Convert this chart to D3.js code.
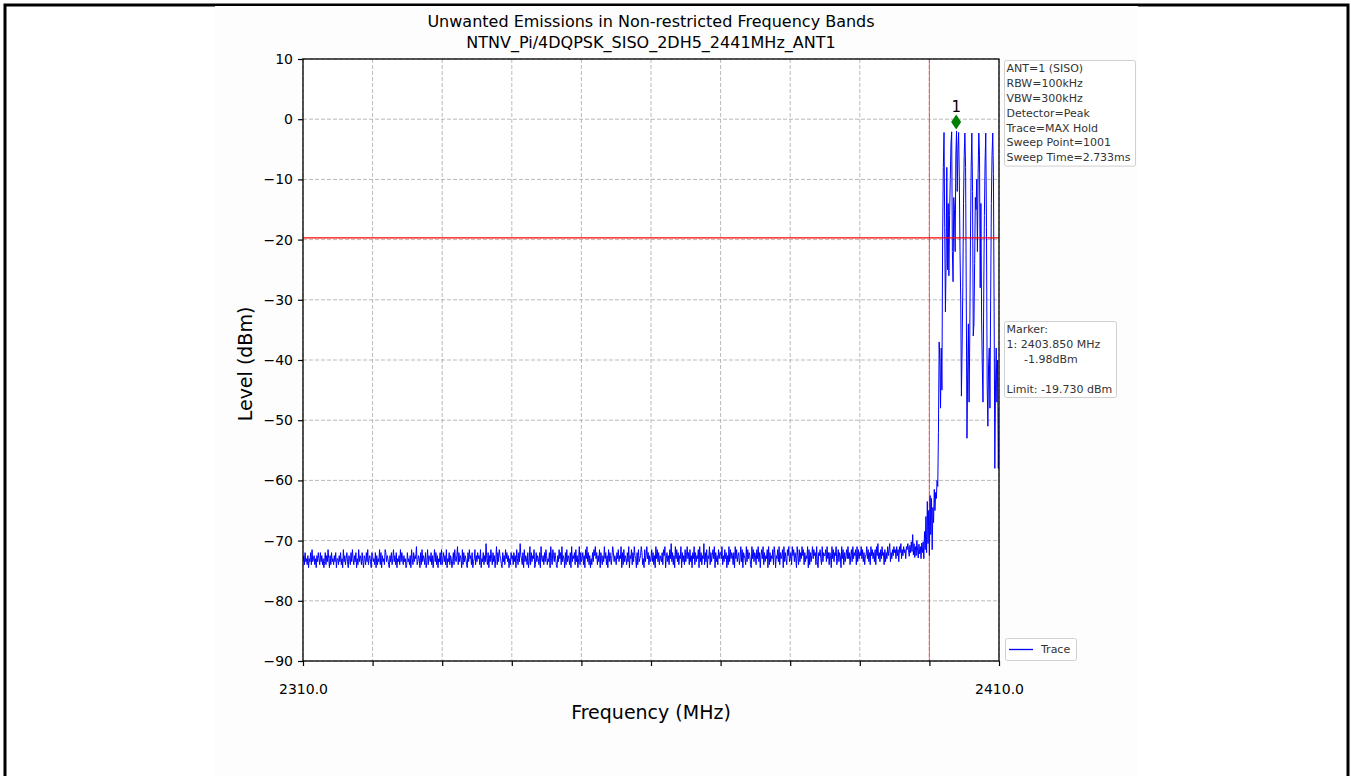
<!DOCTYPE html>
<html><head><meta charset="utf-8">
<script src="https://cdn.jsdelivr.net/npm/d3@7"></script>
<style>
body{margin:0;background:#fff;}
svg{display:block;font-family:"DejaVu Sans",sans-serif;}
</style>
</head><body>
<svg id="chart" width="1351" height="776"></svg>
<script>
// ---------------- data ----------------
const titleLines = ["Unwanted Emissions in Non-restricted Frequency Bands", "NTNV_Pi/4DQPSK_SISO_2DH5_2441MHz_ANT1"];
const xLabel = "Frequency (MHz)";
const yLabel = "Level (dBm)";
const xTicks = [2310, 2320, 2330, 2340, 2350, 2360, 2370, 2380, 2390, 2400, 2410];
const xTickLabels = ["2310.0", "", "", "", "", "", "", "", "", "", "2410.0"];
const yTicks = [10, 0, -10, -20, -30, -40, -50, -60, -70, -80, -90];
const freqStart = 2310.0, freqStep = 0.1;

// noise floor 2310.0 .. 2396.9 MHz, one digit per sweep point: level = -75 + 0.5*digit
const noiseDigits = [
"3526342514","3627345241","5364263524","1362537415","2634253614","4253624173","5246315426","3742536142","7354263154","2637245316",
"5342615243","7261534276","3542153624","7352614352","7364253412","6342517426","3548235416","2735426137","2543625147","3625143627",
"2463527143","6254136274","3582635417","2635421637","4526134725","3645271436","2539426153","7426351482","6375421635","2746351426",
"4526351742","6395426173","5426138263","5471263542","6184352637","5243618427","5364215374","6283541627","3542618354","6273514826",
"3462517483","6251426375","8462537164","2538462517","3642586354","2647354816","2735426381","5472638541","6273458624","1735846253",
"4736251847","3625436275","8146352749","3625184736","2548163527","3584627351","6482635471","8362549263","7154826357","4816352746",
"6482537461","5283746526","1847356248","3716542837","4652184736","5274836157","4826354718","2635472861","5473826457","1836427583",
"4628573641","8527364857","2635481726","3584756283","1657428365","5738462651","8473658247","3651847263","5748462573","8465728374",
"6584736255","8473628574","6372859463","7485627364","8579364758","6748573869","4758674879"
];
// band edge 2397.0 .. 2400.9 MHz (dBm)
const edgeStart = 2397.0;
const edgeLevels = [-71.5,-72.6,-70.8,-72.0,-70.2,-71.8,-69.0,-72.4,-70.5,-72.8,
  -71.0,-72.5,-70.0,-71.6,-72.9,-70.6,-72.2,-71.0,-73.0,-70.4,
  -72.0,-70.2,-73.0,-68.5,-71.5,-66.0,-72.0,-63.5,-70.5,-65.0,
  -72.5,-62.5,-69.0,-63.0,-71.5,-64.5,-67.0,-61.5,-65.0,-62.0];
// in-band signal 2401.0 .. 2410.0 MHz (dBm)
const signalStart = 2401.0;
const signalLevels = [-63,-60,-61,-52,-37,-40,-48,-38,-45,-20,
  -8,-2.2,-18,-32,-24,-8,-25,-14,-26,-16,
  -10,-4,-2.1,-22,-27,-13,-15,-22,-6,-1.98,
  -12,-5,-2.2,-10,-22,-30,-46,-38,-28,-14,
  -6,-2.3,-8,-30,-53,-42,-34,-47,-36,-20,
  -8,-2.3,-12,-36,-34,-24,-13,-15,-10,-22,
  -9,-2.3,-6,-28,-14,-33,-41,-47,-30,-16,
  -7,-2.3,-18,-44,-51,-41,-38,-48,-30,-14,
  -6,-2.3,-9,-32,-58,-44,-38,-47,-40,-58,-48];
const limitLevel = -19.73;
const bandEdge = 2400.0;
const markerFreq = 2403.85, markerLevel = -1.98, markerLabel = "1";
const infoLines = ["ANT=1 (SISO)", "RBW=100kHz", "VBW=300kHz", "Detector=Peak", "Trace=MAX Hold", "Sweep Point=1001", "Sweep Time=2.733ms"];
const markerLines = ["Marker:", "1: 2403.850 MHz", "     -1.98dBm", "", "Limit: -19.730 dBm"];
const legendLabel = "Trace";

// ---------------- build trace ----------------
const trace = [];
noiseDigits.join("").split("").slice(0, 870).forEach((c, i) => trace.push({f: freqStart + i * freqStep, v: -75 + 0.5 * (+c)}));
edgeLevels.forEach((v, i) => trace.push({f: edgeStart + i * freqStep, v}));
signalLevels.forEach((v, i) => trace.push({f: signalStart + i * freqStep, v}));

// ---------------- drawing ----------------
const svg = d3.select("#chart");
const W = 1351, H = 776;
const L = 303, R = 999, T = 59, B = 661;

// outer border and figure background
svg.append("rect").attr("x", 0).attr("y", 0).attr("width", W).attr("height", H).attr("fill", "#fff");
svg.append("path").attr("d", `M5,${H} V5 H${W - 3} V${H}`).attr("fill", "none").attr("stroke", "#000").attr("stroke-width", 3);
svg.append("rect").attr("x", 215).attr("y", 6).attr("width", 923).attr("height", H - 6).attr("fill", "#fdfdfd");

const x = d3.scaleLinear().domain([2310, 2410]).range([L, R]);
const y = d3.scaleLinear().domain([-90, 10]).range([B, T]);

svg.append("rect").attr("x", L).attr("y", T).attr("width", R - L).attr("height", B - T).attr("fill", "#fff");

// grid
const grid = svg.append("g").attr("stroke", "#a8a8a8").attr("stroke-width", 0.8).attr("stroke-dasharray", "4,2");
grid.selectAll(".gx").data(xTicks).join("line").attr("x1", d => x(d)).attr("x2", d => x(d)).attr("y1", T).attr("y2", B);
grid.selectAll(".gy").data(yTicks).join("line").attr("x1", L).attr("x2", R).attr("y1", d => y(d)).attr("y2", d => y(d));

svg.append("clipPath").attr("id", "clip").append("rect").attr("x", L).attr("y", T).attr("width", R - L).attr("height", B - T);
const plot = svg.append("g").attr("clip-path", "url(#clip)");

// band edge vertical line
plot.append("line").attr("x1", x(bandEdge)).attr("x2", x(bandEdge)).attr("y1", T).attr("y2", B)
  .attr("stroke", "#ff0000").attr("stroke-opacity", 0.5).attr("stroke-width", 1.2);

// trace
plot.append("path").datum(trace)
  .attr("d", d3.line().x(d => x(d.f)).y(d => y(d.v)))
  .attr("fill", "none").attr("stroke", "#0000ff").attr("stroke-width", 1).attr("stroke-linejoin", "round");

// limit line
plot.append("line").attr("x1", L).attr("x2", R).attr("y1", y(limitLevel)).attr("y2", y(limitLevel))
  .attr("stroke", "#ff0000").attr("stroke-width", 1.3);

// marker
const mx = x(markerFreq), my = y(markerLevel) - 9;
svg.append("path").attr("d", `M${mx},${my - 7.5} L${mx + 5},${my} L${mx},${my + 7.5} L${mx - 5},${my} Z`).attr("fill", "#008000");
svg.append("text").attr("x", mx).attr("y", my - 10).attr("text-anchor", "middle").attr("font-size", 15).attr("fill", "#000").text(markerLabel);

// axes
const yAxis = svg.append("g").attr("transform", `translate(${L},0)`)
  .call(d3.axisLeft(y).tickValues(yTicks).tickSize(5).tickPadding(5));
const xAxis = svg.append("g").attr("transform", `translate(0,${B})`)
  .call(d3.axisBottom(x).tickValues(xTicks).tickFormat((d, i) => xTickLabels[i]).tickSize(5).tickPadding(18));
[yAxis, xAxis].forEach(g => {
  g.select(".domain").remove();
  g.selectAll("text").attr("font-family", "DejaVu Sans").attr("font-size", 14).attr("fill", "#000");
  g.selectAll("line").attr("stroke", "#000").attr("stroke-width", 1.2);
});
svg.append("rect").attr("x", L).attr("y", T).attr("width", R - L).attr("height", B - T)
  .attr("fill", "none").attr("stroke", "#000").attr("stroke-width", 1.3);

// titles
svg.selectAll(".title").data(titleLines).join("text")
  .attr("x", (L + R) / 2).attr("y", (d, i) => 21 + i * 21).attr("dy", "0.35em")
  .attr("text-anchor", "middle").attr("font-size", 16).attr("fill", "#000").text(d => d);
svg.append("text").attr("x", (L + R) / 2).attr("y", 712).attr("dy", "0.35em").attr("text-anchor", "middle")
  .attr("font-size", 19).attr("fill", "#000").text(xLabel);
svg.append("text").attr("transform", `translate(245,${(T + B) / 2 + 4}) rotate(-90)`).attr("dy", "0.35em").attr("text-anchor", "middle")
  .attr("font-size", 19).attr("fill", "#000").text(yLabel);

// info boxes
function box(x0, y0, w, lines) {
  const h = lines.length * 14.8 + 2;
  svg.append("rect").attr("x", x0).attr("y", y0).attr("width", w).attr("height", h).attr("rx", 2)
    .attr("fill", "#fff").attr("fill-opacity", 0.8).attr("stroke", "#d0d0d0").attr("stroke-width", 1);
  svg.append("g").selectAll("text").data(lines).join("text")
    .attr("x", x0 + 2).attr("y", (d, i) => y0 + 8 + i * 14.8).attr("dy", "0.35em")
    .attr("font-size", 11).attr("fill", "#333").attr("xml:space", "preserve").text(d => d);
}
box(1004.5, 60.5, 131, infoLines);
box(1004.5, 321.5, 112, markerLines);

// legend
svg.append("rect").attr("x", 1005.5).attr("y", 638.5).attr("width", 71).attr("height", 22).attr("rx", 2)
  .attr("fill", "#fff").attr("fill-opacity", 0.8).attr("stroke", "#d0d0d0");
svg.append("line").attr("x1", 1009).attr("x2", 1033).attr("y1", 649.5).attr("y2", 649.5).attr("stroke", "#0000ff").attr("stroke-width", 1.3);
svg.append("text").attr("x", 1041).attr("y", 649.5).attr("dy", "0.35em").attr("font-size", 11).attr("fill", "#333").text(legendLabel);
</script>
</body></html>
